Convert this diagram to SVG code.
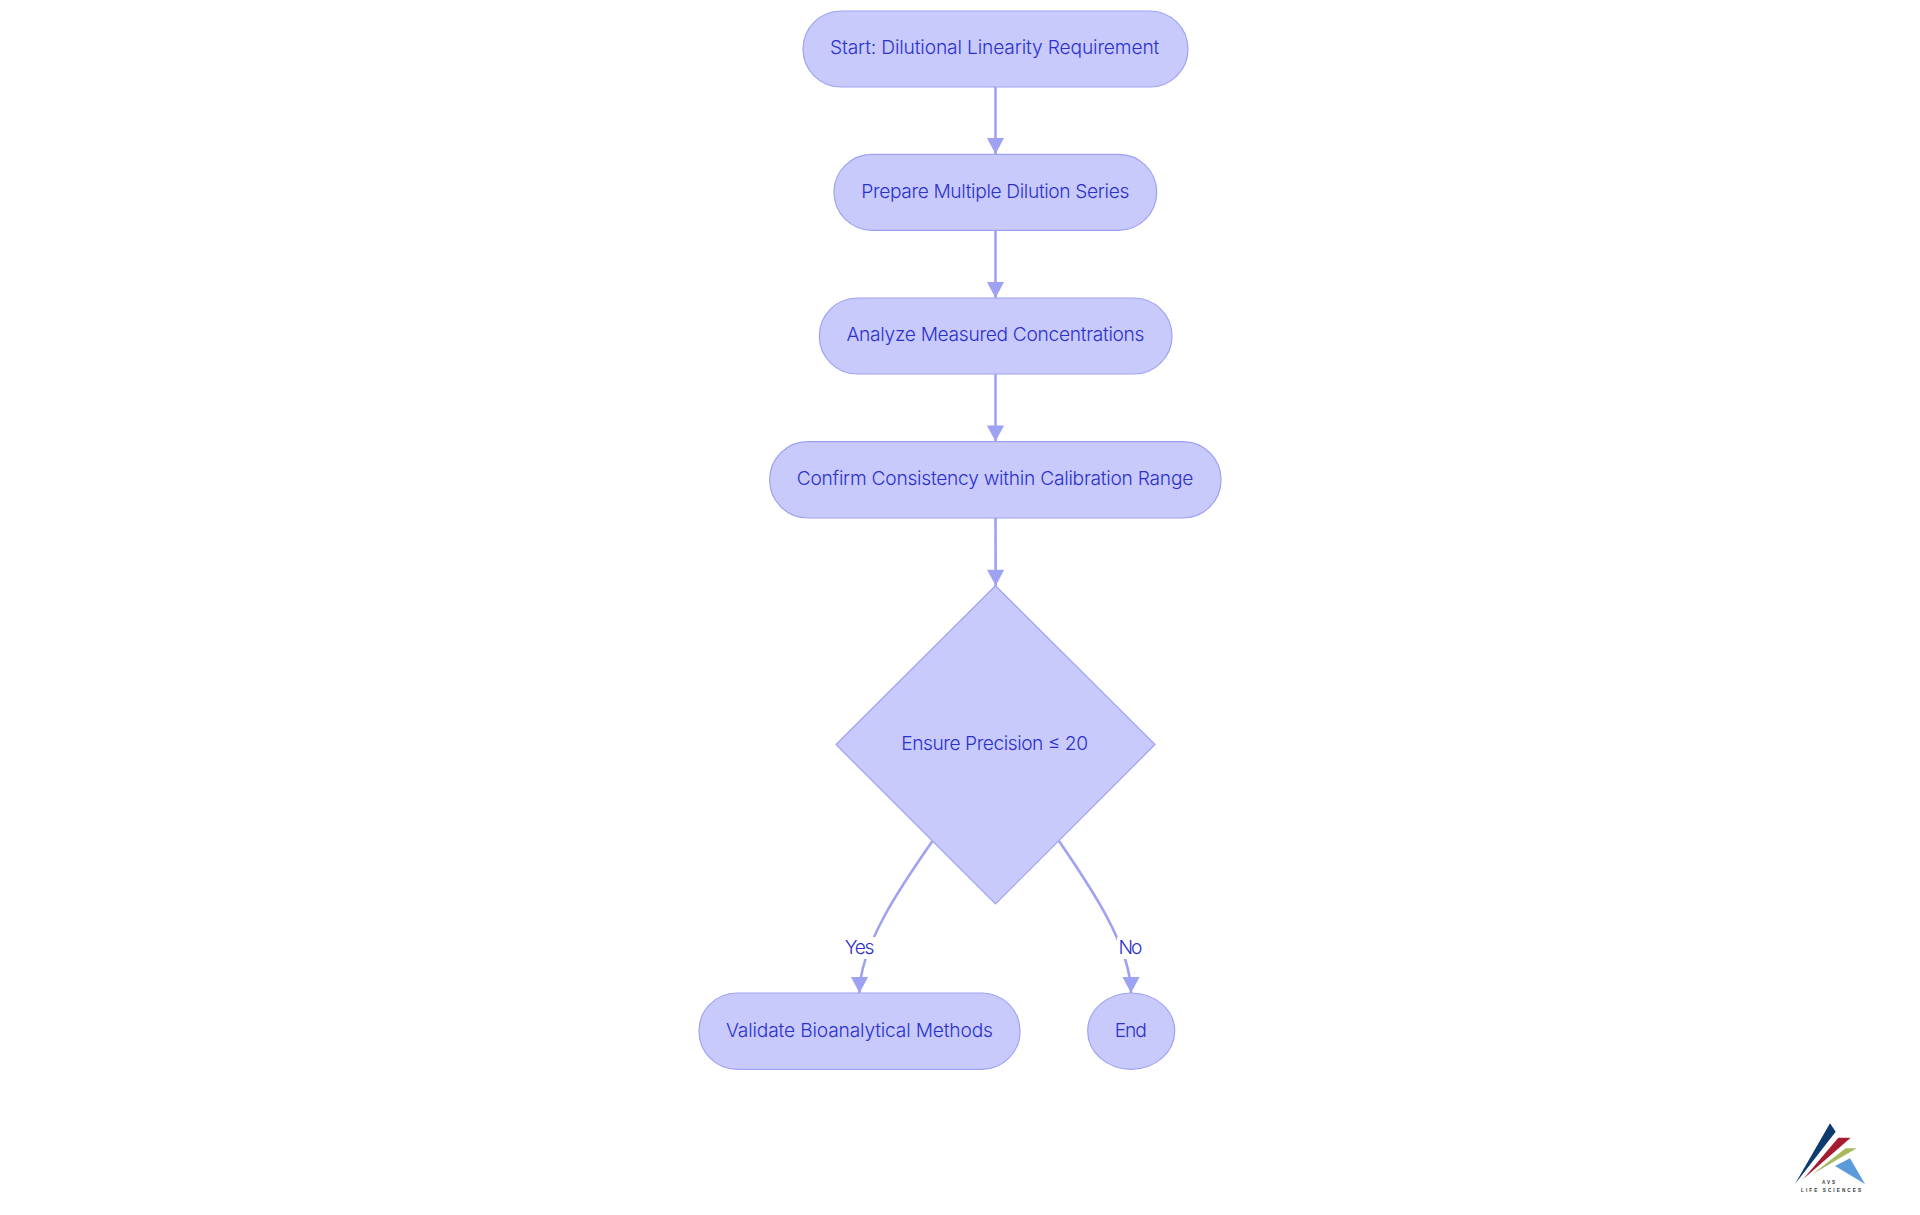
<svg xmlns="http://www.w3.org/2000/svg" width="1920" height="1215" viewBox="0 0 1920 1215">
<style>
.n{fill:#c8cafc;stroke:#9ea2f3;stroke-width:1.2}
.e{fill:none;stroke:#9ea2f3;stroke-width:2.6}
text{font-family:"Inter","Noto Sans",sans-serif;font-size:19.2px;font-weight:300;fill:#2c31cc}
.lb{fill:#fff;stroke:none}
text.logo{font-family:"Liberation Sans",sans-serif;font-size:4.6px;font-weight:700;fill:#333}
</style>
<defs><marker id="a" markerUnits="userSpaceOnUse" markerWidth="16" markerHeight="16" refX="16" refY="8" orient="auto" overflow="visible"><path d="M0,-0.6L16,8L0,16.6z" fill="#9ea2f3"/></marker></defs>
<rect width="1920" height="1215" fill="#fff"/>
<g id="connectors">
<path class="e" marker-end="url(#a)" d="M995.5,87V154"/>
<path class="e" marker-end="url(#a)" d="M995.5,230.3V298"/>
<path class="e" marker-end="url(#a)" d="M995.5,374V441.6"/>
<path class="e" marker-end="url(#a)" d="M995.5,518Q995.5,550 995.7,585.7"/>
<path class="e" marker-end="url(#a)" d="M932.5,841C904,882 859.5,945 859.5,993"/>
<path class="e" marker-end="url(#a)" d="M1059,841C1087,882 1131,945 1131,993"/>
<rect class="lb" x="843" y="937" width="33" height="22"/>
<rect class="lb" x="1117" y="937" width="27" height="22"/>
<text id="label-yes" x="844.8" y="953.8" textLength="29.6">Yes</text>
<text id="label-no" x="1118.6" y="953.8" textLength="23.8">No</text>
</g>
<g id="n1"><rect class="n" x="803" y="11" width="385" height="76" rx="38" ry="38"/><text x="830" y="54" textLength="329.3">Start: Dilutional Linearity Requirement</text></g>
<g id="n2"><rect class="n" x="834" y="154.3" width="322.7" height="76" rx="38" ry="38"/><text x="861.3" y="198" textLength="268">Prepare Multiple Dilution Series</text></g>
<g id="n3"><rect class="n" x="819.3" y="298" width="352.7" height="76" rx="38" ry="38"/><text x="846.5" y="341" textLength="298">Analyze Measured Concentrations</text></g>
<g id="n4"><rect class="n" x="769.7" y="441.6" width="451.3" height="76.4" rx="38" ry="38"/><text x="796.7" y="485" textLength="396.6">Confirm Consistency within Calibration Range</text></g>
<g id="n5"><polygon class="n" points="995.5,585.7 1155,744.5 995.5,904 836,744.5"/><text x="901.3" y="750" textLength="186.7">Ensure Precision ≤ 20</text></g>
<g id="n6"><rect class="n" x="699" y="993" width="321" height="76.3" rx="38" ry="38"/><text x="726" y="1037" textLength="267">Validate Bioanalytical Methods</text></g>
<g id="n7"><rect class="n" x="1087.7" y="993" width="87" height="76.3" rx="43.5" ry="38"/><text x="1114.8" y="1037" textLength="32">End</text></g>
<g id="logo">
<polygon fill="#0d3b70" points="1830,1123.3 1835.7,1131.7 1795,1184"/>
<polygon fill="#a51c30" points="1838.3,1137.7 1850.7,1137.7 1803.3,1179"/>
<polygon fill="#a8b85c" points="1845.7,1148.3 1856.7,1148.3 1812.3,1174.3"/>
<polygon fill="#5b9bd9" points="1835,1166 1850,1158.3 1865,1184"/>
<text class="logo" x="1822" y="1184" textLength="13">AVS</text>
<text class="logo" x="1801" y="1192" textLength="60">LIFE SCIENCES</text>
</g>
</svg>
